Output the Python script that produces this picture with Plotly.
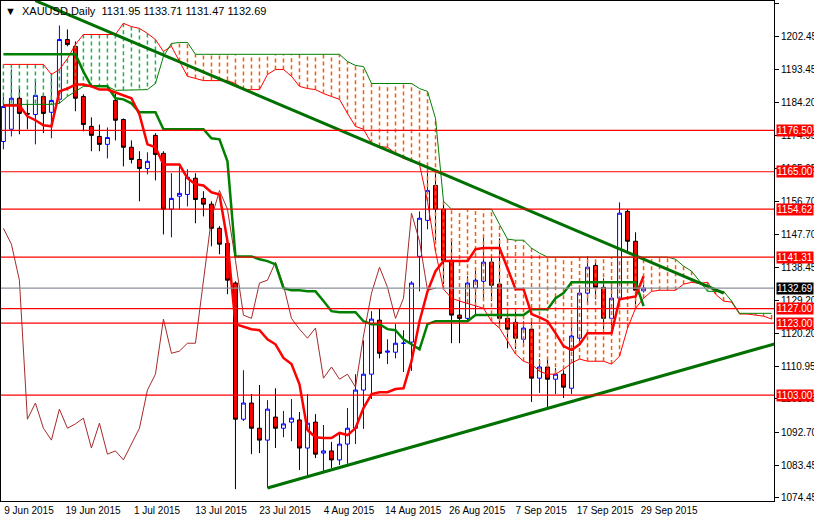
import plotly.graph_objects as go

# daily bars, 9 Jun 2015 .. 29 Sep 2015 (bar index 0..80)
opens = [1173.4, 1176.8, 1185.4, 1181.2, 1180.9, 1185.9, 1181.5, 1185.1, 1201.7, 1199.8,
         1185.9, 1177.6, 1174.8, 1172.6, 1184.8, 1179.5, 1171.8, 1168.4, 1165.9, 1175.1,
         1170.1, 1154.6, 1158.2, 1158.7, 1163.2, 1157.6, 1156.0, 1149.3, 1145.1, 1134.1,
         1096.3, 1100.8, 1093.8, 1090.5, 1096.9, 1093.8, 1095.5, 1096.1, 1088.3, 1095.5,
         1086.9, 1087.5, 1085.0, 1089.4, 1093.8, 1104.4, 1108.8, 1123.8, 1114.9, 1114.9,
         1117.4, 1117.7, 1141.5, 1151.5, 1161.2, 1154.6, 1140.4, 1125.2, 1124.3, 1132.7,
         1134.6, 1139.9, 1133.8, 1124.3, 1123.2, 1118.5, 1121.3, 1107.7, 1110.8, 1107.4,
         1108.8, 1104.9, 1118.8, 1131.3, 1139.0, 1132.9, 1124.3, 1129.9, 1154.0, 1145.7,
         1131.95]
highs = [1185.9, 1193.4, 1188.7, 1184.0, 1190.3, 1186.5, 1192.3, 1205.6, 1204.5, 1201.2,
         1186.5, 1180.1, 1178.1, 1177.3, 1186.7, 1179.8, 1173.7, 1170.7, 1170.4, 1175.7,
         1170.7, 1164.6, 1166.5, 1165.7, 1164.6, 1159.6, 1156.8, 1149.9, 1145.7, 1134.6,
         1109.9, 1103.3, 1105.8, 1101.6, 1104.9, 1098.6, 1101.9, 1098.3, 1103.3, 1097.7,
         1094.7, 1090.0, 1092.5, 1099.4, 1108.8, 1118.2, 1126.3, 1127.1, 1118.5, 1122.7,
         1121.0, 1134.6, 1154.0, 1165.9, 1164.6, 1156.8, 1146.5, 1129.3, 1136.0, 1137.9,
         1146.8, 1142.1, 1146.5, 1125.7, 1126.3, 1123.5, 1124.1, 1113.0, 1113.2, 1110.5,
         1109.9, 1123.5, 1132.7, 1141.5, 1140.4, 1135.4, 1134.1, 1156.5, 1154.6, 1148.2,
         1133.71]
lows = [1171.2, 1174.8, 1175.4, 1176.8, 1172.6, 1175.7, 1174.3, 1184.0, 1199.8, 1181.8,
        1176.2, 1170.7, 1170.7, 1168.7, 1173.7, 1166.5, 1167.3, 1156.8, 1164.3, 1162.6,
        1147.6, 1146.8, 1154.6, 1155.4, 1150.7, 1152.6, 1144.3, 1142.1, 1131.0, 1076.9,
        1095.8, 1086.6, 1086.9, 1077.2, 1088.3, 1091.3, 1090.2, 1082.2, 1080.0, 1085.5,
        1081.6, 1082.8, 1083.6, 1083.9, 1089.4, 1093.6, 1101.9, 1113.2, 1111.6, 1113.2,
        1109.4, 1109.7, 1131.8, 1149.0, 1146.0, 1133.8, 1117.4, 1117.4, 1123.5, 1124.9,
        1129.1, 1129.1, 1121.6, 1116.0, 1115.8, 1117.4, 1101.1, 1103.6, 1099.1, 1103.3,
        1102.2, 1103.3, 1117.4, 1128.2, 1129.6, 1121.3, 1121.6, 1129.1, 1142.9, 1128.2,
        1131.47]
closes = [1183.1, 1185.4, 1181.2, 1181.0, 1186.2, 1181.2, 1184.8, 1201.7, 1200.3, 1185.4,
          1178.1, 1175.1, 1172.6, 1174.5, 1179.3, 1171.8, 1168.4, 1165.9, 1167.9, 1169.8,
          1154.6, 1157.6, 1159.0, 1163.5, 1157.3, 1156.0, 1149.3, 1144.9, 1134.9, 1096.3,
          1100.8, 1093.8, 1090.5, 1099.1, 1093.8, 1095.0, 1096.6, 1088.3, 1095.2, 1086.6,
          1087.5, 1085.0, 1089.4, 1093.8, 1104.4, 1108.8, 1124.1, 1114.6, 1115.2, 1117.4,
          1117.4, 1134.1, 1152.1, 1159.8, 1154.6, 1140.4, 1125.2, 1124.3, 1134.1, 1134.9,
          1139.9, 1133.5, 1124.3, 1121.3, 1118.8, 1121.6, 1107.7, 1110.8, 1107.4, 1108.8,
          1105.2, 1119.4, 1131.3, 1138.5, 1132.9, 1124.3, 1129.9, 1153.5, 1145.7, 1132.1,
          1132.69]

# ichimoku lines
tenkan = [1183.4, 1183.4, 1183.4, 1180.4, 1179.3, 1177.9, 1177.6, 1187.3, 1188.1, 1189.2,
          1189.2, 1188.7, 1187.8, 1187.8, 1187.0, 1186.2, 1185.4, 1180.9, 1172.6, 1171.8,
          1167.0, 1167.0, 1167.0, 1163.2, 1161.5, 1161.2, 1159.3, 1158.7, 1145.7, 1122.7,
          1122.1, 1121.3, 1121.0, 1118.5, 1117.1, 1113.3, 1111.6, 1106.0, 1093.3, 1091.3,
          1091.1, 1091.1, 1092.5, 1091.9, 1093.8, 1099.4, 1103.3, 1103.8, 1103.8, 1104.7,
          1104.9, 1112.4, 1123.5, 1131.8, 1137.4, 1140.2, 1140.2, 1140.2, 1140.2, 1143.5,
          1143.8, 1143.8, 1143.8, 1138.2, 1132.4, 1132.4, 1125.5, 1124.6, 1123.5, 1120.2,
          1116.6, 1115.5, 1117.1, 1120.2, 1120.2, 1120.2, 1120.2, 1129.6, 1129.9, 1130.4,
          1136.0]
kijun = [1197.6] * 10 + \
        [1192.8, 1188.7, 1188.7, 1188.7, 1185.4, 1185.1, 1184.0, 1181.5, 1181.5, 1181.5] + \
        [1176.8] * 6 + [1174.3, 1174.0, 1167.9, 1141.5] + \
        [1141.5, 1141.5, 1140.7, 1140.2, 1139.3, 1132.7, 1132.1, 1132.1, 1131.8, 1131.8] + \
        [1129.1, 1126.3, 1126.0, 1126.0, 1126.0, 1123.5, 1122.7, 1122.7, 1121.3, 1121.0] + \
        [1118.5, 1117.1, 1115.7, 1122.7] + [1123.5] * 5 + [1125.2] + \
        [1125.2] * 6 + [1126.8] * 3 + [1129.9] + \
        [1131.3] + [1134.3] * 9 + [1127.7]
senkou_a = [1194.8] * 6 + [1192.0, 1193.4, 1196.4, 1200.3] + \
           [1203.1] * 5 + [1206.2, 1205.3, 1204.8, 1203.4, 1201.7] + \
           [1198.4, 1199.8, 1195.6, 1191.5, 1190.9, 1190.3, 1190.3, 1190.3, 1190.3, 1189.5] + \
           [1187.8, 1187.8, 1187.8, 1192.0, 1193.4, 1193.4, 1191.5, 1188.7, 1188.1, 1187.8] + \
           [1186.7, 1185.9, 1185.1, 1181.2, 1177.6, 1176.8, 1172.9, 1172.0, 1171.8, 1170.1] + \
           [1168.7, 1167.9, 1167.0, 1156.8, 1142.9, 1132.4, 1129.9, 1129.1, 1128.5, 1127.7] + \
           [1127.1, 1123.5, 1121.6, 1118.0, 1114.4, 1112.4, 1111.6, 1109.6, 1108.8, 1108.8] + \
           [1110.2, 1111.9, 1113.0, 1112.4, 1112.4, 1112.4, 1111.6, 1113.8, 1121.6, 1127.1] + \
           [1129.9, 1131.8, 1132.1, 1132.1, 1132.1, 1133.8, 1134.3, 1134.0, 1134.3, 1131.0] + \
           [1129.1, 1128.8, 1125.5, 1125.5, 1125.2, 1124.9, 1124.1]
senkou_b = [1183.7] * 7 + [1184.0, 1185.9, 1187.3] + \
           [1188.7] * 4 + [1187.6] * 4 + [1187.8, 1189.5] + \
           [1197.0, 1200.6, 1200.9, 1200.9] + [1197.6] * 6 + \
           [1197.6] * 10 + \
           [1197.6] * 3 + [1195.6, 1194.5, 1194.2] + [1189.5] * 4 + \
           [1189.5, 1189.5, 1188.1, 1187.3, 1179.8, 1156.8] + [1154.6] * 4 + \
           [1154.6, 1154.6, 1150.4, 1146.3, 1146.0, 1146.0, 1143.8, 1142.4, 1141.3, 1141.3] + \
           [1141.3] * 10 + \
           [1141.3] * 4 + [1140.7, 1138.8, 1137.4, 1134.6, 1131.8, 1131.8] + \
           [1131.8, 1129.1] + [1125.7] * 5
chikou = [1149.3, 1144.9, 1134.9, 1096.3, 1100.8, 1093.8, 1090.5, 1099.1, 1093.8, 1095.0,
          1096.6, 1088.3, 1095.2, 1086.6, 1087.5, 1085.0, 1089.4, 1093.8, 1104.4, 1108.8,
          1124.1, 1114.6, 1115.2, 1117.4, 1117.4, 1134.1, 1152.1, 1159.8, 1154.6, 1140.4,
          1125.2, 1124.3, 1134.1, 1134.9, 1139.9, 1133.5, 1124.3, 1121.3, 1118.8, 1121.6,
          1107.7, 1110.8, 1107.4, 1108.8, 1105.2, 1119.4, 1131.3, 1138.5, 1132.9, 1124.3,
          1129.9, 1153.5, 1145.7, 1132.1, 1132.69]

levels = [1176.50, 1165.00, 1154.62, 1141.31, 1127.00, 1123.00, 1103.00]
last_price = 1132.69
# trendlines: (bar, price) endpoints
down_trend = [(4, 1212.5), (90, 1131.3)]
up_trend = [(33, 1077.2), (97, 1117.6)]

tick_bars = [0, 8, 16, 24, 32, 40, 48, 56, 64, 72, 80]
tick_labels = ["9 Jun 2015", "19 Jun 2015", "1 Jul 2015", "13 Jul 2015", "23 Jul 2015",
               "4 Aug 2015", "14 Aug 2015", "26 Aug 2015", "7 Sep 2015", "17 Sep 2015",
               "29 Sep 2015"]
price_ticks = [1211.70, 1202.45, 1193.45, 1184.20, 1174.95, 1165.95, 1156.70, 1147.70,
               1138.45, 1129.20, 1120.20, 1110.95, 1101.95, 1092.70, 1083.45, 1074.45]

FONT = "Liberation Sans"
bars = list(range(len(closes)))
fig = go.Figure()

# cloud hatching
hx = {"g": [], "r": []}
hy = {"g": [], "r": []}
for i, (a, b) in enumerate(zip(senkou_a, senkou_b)):
    k = "g" if a >= b else "r"
    hx[k] += [i, i, None]
    hy[k] += [a, b, None]
fig.add_trace(go.Scatter(x=hx["g"], y=hy["g"], mode="lines", hoverinfo="skip",
                         line=dict(color="#22b04a", width=1.5, dash="4px,3px")))
fig.add_trace(go.Scatter(x=hx["r"], y=hy["r"], mode="lines", hoverinfo="skip",
                         line=dict(color="#ff5a00", width=1.5, dash="4px,3px")))
span = list(range(len(senkou_a)))
fig.add_trace(go.Scatter(x=span, y=senkou_a, mode="lines", line=dict(color="#ff0000", width=1)))
fig.add_trace(go.Scatter(x=span, y=senkou_b, mode="lines", line=dict(color="#008000", width=1)))

for lv in levels:
    fig.add_hline(y=lv, line=dict(color="#ff0000", width=1.2))
fig.add_hline(y=last_price, line=dict(color="#8a8f9a", width=1.2))

fig.add_trace(go.Scatter(x=list(range(len(chikou))), y=chikou, mode="lines",
                         line=dict(color="#a52a2a", width=1)))
fig.add_trace(go.Scatter(x=bars, y=kijun, mode="lines", line=dict(color="#008000", width=2.5)))
fig.add_trace(go.Scatter(x=bars, y=tenkan, mode="lines", line=dict(color="#ff0000", width=2.5)))

for tl in (down_trend, up_trend):
    fig.add_trace(go.Scatter(x=[p[0] for p in tl], y=[p[1] for p in tl], mode="lines",
                             line=dict(color="#007000", width=3)))

fig.add_trace(go.Candlestick(
    x=bars, open=opens, high=highs, low=lows, close=closes, whiskerwidth=0,
    increasing=dict(line=dict(color="#0000ff", width=1), fillcolor="#ffffff"),
    decreasing=dict(line=dict(color="#000000", width=1), fillcolor="#ff0000")))

# right-hand price labels
for lv in levels:
    fig.add_annotation(x=1, xref="paper", xanchor="left", xshift=2, y=lv, yref="y",
                       text=f"{lv:.2f}", showarrow=False, bgcolor="#ff0000", borderpad=0,
                       font=dict(color="white", size=10, family=FONT))
fig.add_annotation(x=1, xref="paper", xanchor="left", xshift=2, y=last_price, yref="y",
                   text=f"{last_price:.2f}", showarrow=False, bgcolor="#000000", borderpad=0,
                   font=dict(color="white", size=10, family=FONT))

fig.add_annotation(x=0.003, xref="paper", y=0.997, yref="paper", xanchor="left", yanchor="top",
                   text="▼  XAUUSD,Daily  1131.95 1133.71 1131.47 1132.69", showarrow=False,
                   font=dict(color="black", size=11, family=FONT))

fig.update_layout(
    width=814, height=516, margin=dict(l=1, r=40, t=1, b=15, autoexpand=False),
    paper_bgcolor="white", plot_bgcolor="white", showlegend=False,
    xaxis=dict(range=[-0.3, 96.3], rangeslider=dict(visible=False), showgrid=False,
               zeroline=False, tickvals=[b + 3.2 for b in tick_bars], ticktext=tick_labels,
               ticks="", tickangle=0, automargin=False,
               tickfont=dict(size=10, family=FONT, color="black"),
               showline=True, linecolor="black", mirror=True),
    yaxis=dict(range=[1073.6, 1212.4], side="right", showgrid=False, zeroline=False,
               tickvals=price_ticks, ticktext=[f"{p:.2f}" for p in price_ticks],
               ticks="outside", ticklen=4, tickcolor="black", automargin=False,
               tickfont=dict(size=10, family=FONT, color="black"),
               showline=True, linecolor="black", mirror=True),
)

# page body has a default margin; drop it so the figure fills the window
fig.write_html("out.html", config={"displayModeBar": False},
               post_script="document.body.style.margin='0px';")
